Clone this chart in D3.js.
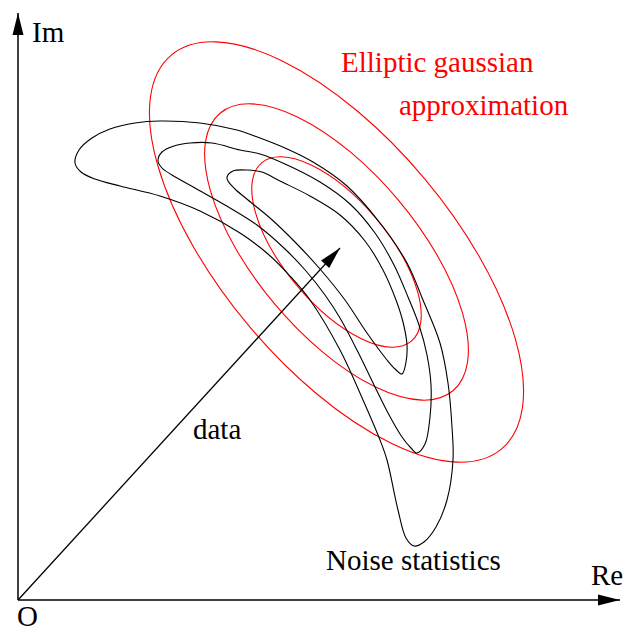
<!DOCTYPE html>
<html>
<head>
<meta charset="utf-8">
<script src="https://cdn.jsdelivr.net/npm/d3@7"></script>
<style>
  html, body { margin: 0; padding: 0; background: #fff; }
  svg { display: block; }
  text { font-family: "Liberation Serif", "Times New Roman", serif; font-size: 29px; }
</style>
</head>
<body>
<svg id="chart" width="627" height="632"></svg>
<script>
const WIDTH = 627;
const HEIGHT = 632;
const ORIGIN = [18, 600];
const COLOR_NOISE = '#000000';
const COLOR_GAUSS = '#ff0000';

// axis extents in Re / Im units
const RE_MAX = 602;
const IM_MAX = 587;

// mean data vector
const DATA_VECTOR = [322, 352];

// elliptic gaussian: centre, semi-axes, tilt (deg), relative contour levels
const ELLIPSE_CENTER = [318.5, 348];
const ELLIPSE_AXES = [257, 114.6];
const ELLIPSE_TILT = -50;
const ELLIPSE_LEVELS = [1, 0.705, 0.453];

// noise statistics contours (Re, Im), traced clockwise from the left tip
const NOISE_OUTER = [
  [57, 437], [61, 450], [74, 462], [92, 471], [117, 477], [142, 479], [182, 477],
  [219, 470], [242, 462], [267, 452], [295, 438], [329, 414], [362, 377], [389, 337],
  [405, 300], [422, 257], [430, 217], [434, 173], [435, 140], [429, 100], [418, 73],
  [406, 58], [396, 54], [388, 62], [380, 90], [369, 140], [362, 160], [345, 200],
  [322, 250], [292, 300], [272, 324], [250, 346], [222, 367], [182, 389], [142, 404],
  [102, 414], [77, 421], [63, 428]
];
const NOISE_MIDDLE = [
  [140, 439], [144, 448], [156, 454], [172, 457], [194, 457], [222, 450], [242, 446],
  [267, 436], [302, 418], [332, 396], [357, 367], [376, 335], [390, 303], [401, 275],
  [409, 245], [413, 215], [412, 183], [407, 156], [399, 147], [393, 152], [384, 163],
  [370, 187], [356, 215], [340, 248], [322, 282], [307, 305], [288, 329], [267, 351],
  [239, 375], [207, 395], [177, 412], [154, 425], [144, 432]
];
const NOISE_INNER = [
  [209, 423], [215, 429], [229, 430], [244, 428], [262, 419], [292, 404], [322, 385],
  [347, 359], [365, 330], [378, 300], [385, 278], [389, 255], [388, 238], [384, 226],
  [377, 231], [369, 240], [349, 267], [327, 300], [302, 331], [277, 358], [252, 382],
  [230, 400], [217, 411], [210, 419]
];

const LABELS = ['Im', 'Re', 'O', 'data', 'Noise statistics', 'Elliptic gaussian', 'approximation'];

const svg = d3.select('#chart').attr('viewBox', `0 0 ${WIDTH} ${HEIGHT}`);

const x = d3.scaleLinear().domain([0, RE_MAX]).range([ORIGIN[0], ORIGIN[0] + RE_MAX]);
const y = d3.scaleLinear().domain([0, IM_MAX]).range([ORIGIN[1], ORIGIN[1] - IM_MAX]);

// arrow head
svg.append('defs')
  .append('marker')
  .attr('id', 'head')
  .attr('viewBox', '-23 -6 24 12')
  .attr('refX', 0)
  .attr('refY', 0)
  .attr('markerWidth', 24)
  .attr('markerHeight', 12)
  .attr('markerUnits', 'userSpaceOnUse')
  .attr('orient', 'auto')
  .append('path')
  .attr('d', 'M0,0L-22,-5.5L-22,5.5Z')
  .attr('fill', COLOR_NOISE);

// Gaussian ellipses
const [ecx, ecy] = [x(ELLIPSE_CENTER[0]), y(ELLIPSE_CENTER[1])];
svg.append('g')
  .selectAll('ellipse')
  .data(ELLIPSE_LEVELS)
  .join('ellipse')
  .attr('cx', ecx)
  .attr('cy', ecy)
  .attr('rx', d => x(ELLIPSE_AXES[0] * d) - x(0))
  .attr('ry', d => y(0) - y(ELLIPSE_AXES[1] * d))
  .attr('transform', `rotate(${-ELLIPSE_TILT} ${ecx} ${ecy})`)
  .attr('fill', 'none')
  .attr('stroke', COLOR_GAUSS)
  .attr('stroke-width', 1.1);

// Noise contours
const line = d3.line()
  .x(d => x(d[0]))
  .y(d => y(d[1]))
  .curve(d3.curveCatmullRomClosed.alpha(0.5));

svg.append('g')
  .selectAll('path')
  .data([NOISE_OUTER, NOISE_MIDDLE, NOISE_INNER])
  .join('path')
  .attr('d', line)
  .attr('fill', 'none')
  .attr('stroke', COLOR_NOISE)
  .attr('stroke-width', 1.1)
  .attr('stroke-linejoin', 'round');

// axes and data vector
const arrows = [
  [[0, 0], [RE_MAX, 0]],
  [[0, 0], [0, IM_MAX]],
  [[0, 0], DATA_VECTOR]
];
svg.append('g')
  .selectAll('line')
  .data(arrows)
  .join('line')
  .attr('x1', d => x(d[0][0]))
  .attr('y1', d => y(d[0][1]))
  .attr('x2', d => x(d[1][0]))
  .attr('y2', d => y(d[1][1]))
  .attr('stroke', COLOR_NOISE)
  .attr('stroke-width', (d, i) => (i < 2 ? 1.5 : 1.3))
  .attr('marker-end', 'url(#head)');

// labels
const labelPos = [[14, 558], [573, 15], [-1, -26], [175, 161], [308, 30], [323, 528], [381, 485]];
svg.append('g')
  .selectAll('text')
  .data(LABELS)
  .join('text')
  .attr('x', (d, i) => x(labelPos[i][0]))
  .attr('y', (d, i) => y(labelPos[i][1]))
  .attr('fill', (d, i) => (i >= 5 ? COLOR_GAUSS : COLOR_NOISE))
  .text(d => d);
</script>
</body>
</html>
